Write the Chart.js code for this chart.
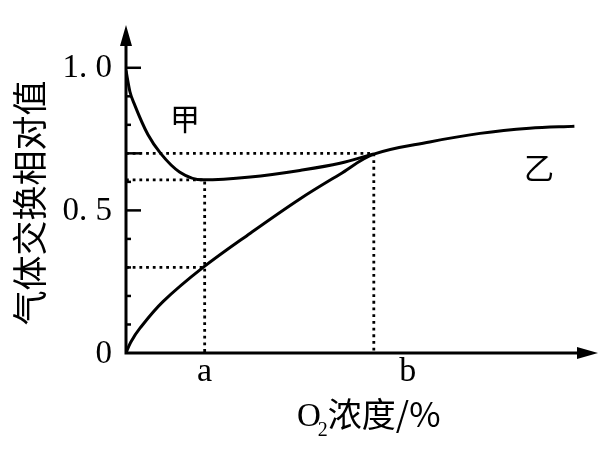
<!DOCTYPE html>
<html>
<head>
<meta charset="utf-8">
<script src="https://cdn.jsdelivr.net/npm/chart.js@4"></script>
<style>
  html,body{margin:0;padding:0;background:#fff;}
  #wrap{width:610px;height:454px;}
</style>
</head>
<body>
<div id="wrap"><canvas id="grafico" width="610" height="454"></canvas></div>
<script>
// 数据
const jiaX = [0, 0.5, 1.1, 2.8, 4.4, 6.8, 9.8, 15.8, 22.1, 27.2, 31.5];
const jiaY = [0.99, 0.916, 0.87, 0.765, 0.70, 0.635, 0.607, 0.617, 0.64, 0.665, 0.698];
const yiX = [0, 0.6, 1.8, 4.7, 9.8, 15.8, 22.1, 27.2, 31.5, 38.6, 45, 51.3, 57];
const yiY = [0, 0.038, 0.088, 0.18, 0.30, 0.42, 0.54, 0.627, 0.697, 0.74, 0.77, 0.788, 0.795];
const aX = 10, bX = 31.5;
const minY = 0.607, crossY = 0.7, yiAtA = 0.3;
const yTicks = [0, 0.1, 0.2, 0.3, 0.4, 0.5, 0.6, 0.7, 0.8, 0.9, 1.0];
const yLongTicks = [0.5, 0.7, 1.0];
const yTickLabels = {0:'0', 0.5:'0. 5', 1:'1. 0'};
const xLabels = [{t:'a', x:10}, {t:'b', x:35.8}];

const pts = (xs, ys) => xs.map((x,i)=>({x:x, y:ys[i]}));
const dotted = (arr) => ({
  data: arr, borderColor:'#000', borderWidth:2.8, borderDash:[2.8,3.9],
  pointRadius:0, tension:0, fill:false
});

// 坐标轴、箭头、刻度和文字
const eixos = {
  id:'eixos',
  afterDraw(chart){
    const c = chart.ctx, xs = chart.scales.x, ys = chart.scales.y;
    const x0 = xs.getPixelForValue(0), y0 = ys.getPixelForValue(0);
    const right = chart.chartArea.right, top = chart.chartArea.top;
    c.save();
    c.strokeStyle = '#000'; c.fillStyle = '#000'; c.lineWidth = 3;
    c.beginPath();
    c.moveTo(x0, y0+1.5); c.lineTo(x0, top+18);
    c.moveTo(x0-1.5, y0); c.lineTo(right-18, y0);
    c.stroke();
    c.beginPath();
    c.moveTo(x0, top); c.lineTo(x0-6, top+21); c.lineTo(x0+6, top+21); c.closePath();
    c.moveTo(right, y0); c.lineTo(right-21, y0-6); c.lineTo(right-21, y0+6); c.closePath();
    c.fill();
    c.lineWidth = 2.5;
    yTicks.forEach(v=>{
      if (v === 0) return;
      const py = ys.getPixelForValue(v);
      const len = yLongTicks.includes(v) ? 15 : 5;
      c.beginPath(); c.moveTo(x0, py); c.lineTo(x0+len, py); c.stroke();
    });
    c.font = '33px "Liberation Serif", serif';
    c.textAlign = 'right'; c.textBaseline = 'middle';
    Object.keys(yTickLabels).forEach(k=>{
      c.fillText(yTickLabels[k], 112, ys.getPixelForValue(+k)+1);
    });
    c.font = '34px "Liberation Serif", serif';
    c.textAlign = 'center'; c.textBaseline = 'middle';
    xLabels.forEach(l=>c.fillText(l.t, xs.getPixelForValue(l.x), 372));
    // x 轴标题
    c.textAlign = 'left'; c.textBaseline = 'alphabetic';
    let tx = 297;
    c.font = '33px "Liberation Serif", serif';
    c.fillText('O', tx, 426); tx += c.measureText('O').width - 3;
    c.font = '20px "Liberation Serif", serif';
    c.fillText('2', tx, 436); tx += c.measureText('2').width;
    c.font = '34px "Noto Sans CJK SC"';
    c.fillText('浓度/%', tx, 427);
    // y 轴标题
    c.save();
    c.translate(30, 203); c.rotate(-Math.PI/2);
    c.textAlign = 'center'; c.textBaseline = 'middle';
    c.font = '35px "Noto Sans CJK SC"';
    c.fillText('气体交换相对值', 0, 0);
    c.restore();
    // 曲线名称
    c.font = '30px "Noto Sans CJK SC"';
    c.textAlign = 'center'; c.textBaseline = 'middle';
    c.fillText('甲', 185, 119);
    c.fillText('乙', 539, 168);
    c.restore();
  }
};

new Chart(document.getElementById('grafico'), {
  type:'line',
  data:{
    datasets:[
      dotted([{x:0,y:crossY},{x:bX,y:crossY},{x:bX,y:0}]),
      dotted([{x:0,y:minY},{x:aX,y:minY},{x:aX,y:0}]),
      dotted([{x:0,y:yiAtA},{x:aX,y:yiAtA}]),
      {label:'甲', data:pts(jiaX, jiaY), borderColor:'#000', borderWidth:3,
       pointRadius:0, cubicInterpolationMode:'monotone', fill:false},
      {label:'乙', data:pts(yiX, yiY), borderColor:'#000', borderWidth:3,
       pointRadius:0, tension:0.35, fill:false}
    ]
  },
  options:{
    responsive:false, animation:false,
    layout:{padding:{left:126, right:12, top:25, bottom:101}},
    plugins:{legend:{display:false}, tooltip:{enabled:false}},
    scales:{
      x:{type:'linear', min:0, max:60, display:false},
      y:{min:0, max:1.15, display:false}
    }
  },
  plugins:[eixos]
});
</script>
</body>
</html>
